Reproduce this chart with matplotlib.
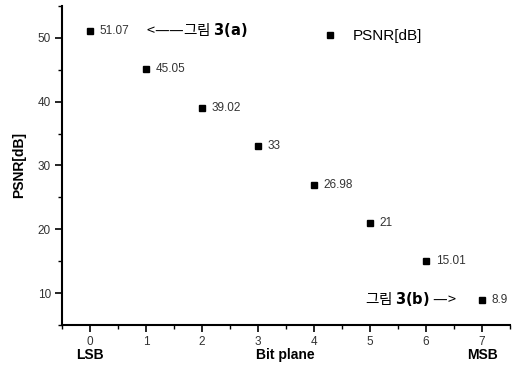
import matplotlib
matplotlib.use("Agg")
import matplotlib.pyplot as plt
from matplotlib.ticker import MultipleLocator

bit_plane = [0, 1, 2, 3, 4, 5, 6, 7]
psnr = [51.07, 45.05, 39.02, 33, 26.98, 21, 15.01, 8.9]
value_labels = ["51.07", "45.05", "39.02", "33", "26.98", "21", "15.01", "8.9"]

plt.rcParams['font.family'] = ['Liberation Sans', 'Noto Sans CJK KR', 'DejaVu Sans']

fig = plt.figure(figsize=(5.15, 3.68), dpi=100)
ax = fig.add_axes([62/515, 1 - 325/368, (510 - 62)/515, (325 - 6)/368])

ax.plot(bit_plane, psnr, linestyle='none', marker='s', markersize=4.5,
        color='black', label='PSNR[dB]')

for x, y, t in zip(bit_plane, psnr, value_labels):
    ax.annotate(t, (x, y), xytext=(7, 0), textcoords='offset points',
                ha='left', va='center', fontsize=8.5, color='#333333')

ax.annotate('<\u2014\u2014\uadf8\ub9bc $\\bf{3(a)}$', (0, psnr[0]), xytext=(40, 1),
            textcoords='offset points', ha='left', va='center', fontsize=10.5,
            color='black', family=['Noto Sans CJK KR', 'DejaVu Sans'])
ax.annotate('\uadf8\ub9bc $\\bf{3(b)}$ \u2014>', (7, psnr[7]), xytext=(-18, 0.5),
            textcoords='offset points', ha='right', va='center', fontsize=10.5,
            color='black', family=['Noto Sans CJK KR', 'DejaVu Sans'])

ax.set_xlim(-0.5, 7.5)
ax.set_ylim(5, 55)
ax.spines['top'].set_visible(False)
ax.spines['right'].set_visible(False)
ax.spines['left'].set_linewidth(1.5)
ax.spines['bottom'].set_linewidth(1.5)
ax.xaxis.set_major_locator(MultipleLocator(1))
ax.xaxis.set_minor_locator(MultipleLocator(0.5))
ax.yaxis.set_major_locator(MultipleLocator(10))
ax.yaxis.set_minor_locator(MultipleLocator(5))
ax.tick_params(which='major', direction='out', length=5, width=1.2,
               labelsize=8.5, labelcolor='#333333', pad=3)
ax.tick_params(which='minor', direction='out', length=3, width=1.0)

ax.set_ylabel('PSNR[dB]', fontsize=10, fontweight='bold', labelpad=8)

fig.text(90/515, 1 - 355/368, 'LSB', ha='center', va='center', fontsize=10, fontweight='bold')
fig.text(285/515, 1 - 355/368, 'Bit plane', ha='center', va='center', fontsize=10, fontweight='bold')
fig.text(482/515, 1 - 355/368, 'MSB', ha='center', va='center', fontsize=10, fontweight='bold')

leg = ax.legend(loc='center left', bbox_to_anchor=((322 - 62)/448, 1 - (36 - 6)/319),
                frameon=False, fontsize=11, handlelength=1.0, handletextpad=1.0,
                borderaxespad=0, borderpad=0)

fig.savefig('out.png', dpi=100)
